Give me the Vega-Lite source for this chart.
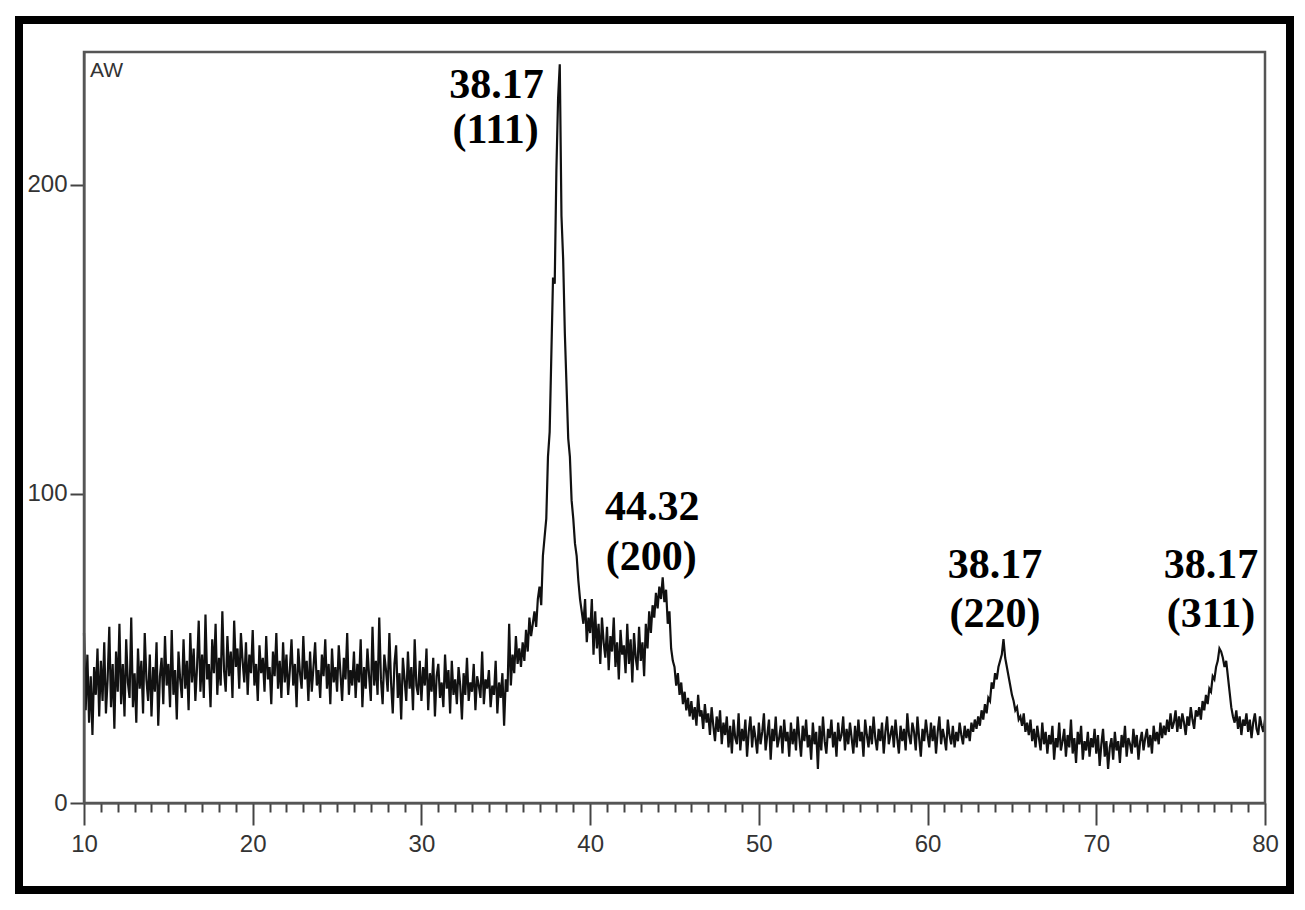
{
  "$schema": "https://vega.github.io/schema/vega-lite/v6.json",
  "width": 1271,
  "height": 870,
  "autosize": "none",
  "padding": {"left": 19, "top": 20, "right": 15, "bottom": 20},
  "background": "white",
  "config": {"view": {"stroke": "black", "strokeWidth": 8}},
  "datasets": {
    "xrd": [
{"t":10.0,"i":55},{"t":10.1,"i":30},{"t":10.2,"i":48},{"t":10.3,"i":26},{"t":10.4,"i":41},{"t":10.5,"i":22},{"t":10.6,"i":44},{"t":10.7,"i":35},{"t":10.8,"i":50},{"t":10.9,"i":28},
{"t":11.0,"i":46},{"t":11.1,"i":33},{"t":11.2,"i":52},{"t":11.3,"i":29},{"t":11.4,"i":40},{"t":11.5,"i":57},{"t":11.6,"i":31},{"t":11.7,"i":45},{"t":11.8,"i":24},{"t":11.9,"i":49},
{"t":12.0,"i":36},{"t":12.1,"i":58},{"t":12.2,"i":32},{"t":12.3,"i":45},{"t":12.4,"i":28},{"t":12.5,"i":53},{"t":12.6,"i":39},{"t":12.7,"i":34},{"t":12.8,"i":60},{"t":12.9,"i":31},
{"t":13.0,"i":42},{"t":13.1,"i":26},{"t":13.2,"i":50},{"t":13.3,"i":37},{"t":13.4,"i":46},{"t":13.5,"i":29},{"t":13.6,"i":55},{"t":13.7,"i":40},{"t":13.8,"i":33},{"t":13.9,"i":48},
{"t":14.0,"i":28},{"t":14.1,"i":44},{"t":14.2,"i":36},{"t":14.3,"i":52},{"t":14.4,"i":25},{"t":14.5,"i":41},{"t":14.6,"i":47},{"t":14.7,"i":32},{"t":14.8,"i":54},{"t":14.9,"i":38},
{"t":15.0,"i":45},{"t":15.1,"i":31},{"t":15.2,"i":56},{"t":15.3,"i":35},{"t":15.4,"i":43},{"t":15.5,"i":27},{"t":15.6,"i":49},{"t":15.7,"i":40},{"t":15.8,"i":34},{"t":15.9,"i":53},
{"t":16.0,"i":37},{"t":16.1,"i":46},{"t":16.2,"i":30},{"t":16.3,"i":55},{"t":16.4,"i":39},{"t":16.5,"i":50},{"t":16.6,"i":33},{"t":16.7,"i":44},{"t":16.8,"i":59},{"t":16.9,"i":36},
{"t":17.0,"i":48},{"t":17.1,"i":34},{"t":17.2,"i":61},{"t":17.3,"i":40},{"t":17.4,"i":45},{"t":17.5,"i":31},{"t":17.6,"i":53},{"t":17.7,"i":42},{"t":17.8,"i":58},{"t":17.9,"i":35},
{"t":18.0,"i":47},{"t":18.1,"i":38},{"t":18.2,"i":62},{"t":18.3,"i":43},{"t":18.4,"i":36},{"t":18.5,"i":54},{"t":18.6,"i":41},{"t":18.7,"i":49},{"t":18.8,"i":34},{"t":18.9,"i":59},
{"t":19.0,"i":44},{"t":19.1,"i":50},{"t":19.2,"i":37},{"t":19.3,"i":55},{"t":19.4,"i":46},{"t":19.5,"i":39},{"t":19.6,"i":52},{"t":19.7,"i":35},{"t":19.8,"i":48},{"t":19.9,"i":42},
{"t":20.0,"i":56},{"t":20.1,"i":38},{"t":20.2,"i":45},{"t":20.3,"i":33},{"t":20.4,"i":51},{"t":20.5,"i":42},{"t":20.6,"i":47},{"t":20.7,"i":36},{"t":20.8,"i":54},{"t":20.9,"i":40},
{"t":21.0,"i":44},{"t":21.1,"i":32},{"t":21.2,"i":49},{"t":21.3,"i":41},{"t":21.4,"i":55},{"t":21.5,"i":37},{"t":21.6,"i":46},{"t":21.7,"i":34},{"t":21.8,"i":52},{"t":21.9,"i":39},
{"t":22.0,"i":48},{"t":22.1,"i":35},{"t":22.2,"i":43},{"t":22.3,"i":53},{"t":22.4,"i":38},{"t":22.5,"i":45},{"t":22.6,"i":31},{"t":22.7,"i":50},{"t":22.8,"i":42},{"t":22.9,"i":37},
{"t":23.0,"i":54},{"t":23.1,"i":40},{"t":23.2,"i":46},{"t":23.3,"i":33},{"t":23.4,"i":49},{"t":23.5,"i":36},{"t":23.6,"i":44},{"t":23.7,"i":52},{"t":23.8,"i":38},{"t":23.9,"i":43},
{"t":24.0,"i":34},{"t":24.1,"i":48},{"t":24.2,"i":41},{"t":24.3,"i":53},{"t":24.4,"i":37},{"t":24.5,"i":45},{"t":24.6,"i":32},{"t":24.7,"i":50},{"t":24.8,"i":39},{"t":24.9,"i":44},
{"t":25.0,"i":36},{"t":25.1,"i":51},{"t":25.2,"i":42},{"t":25.3,"i":33},{"t":25.4,"i":47},{"t":25.5,"i":40},{"t":25.6,"i":55},{"t":25.7,"i":35},{"t":25.8,"i":43},{"t":25.9,"i":38},
{"t":26.0,"i":49},{"t":26.1,"i":34},{"t":26.2,"i":45},{"t":26.3,"i":39},{"t":26.4,"i":53},{"t":26.5,"i":31},{"t":26.6,"i":44},{"t":26.7,"i":37},{"t":26.8,"i":50},{"t":26.9,"i":41},
{"t":27.0,"i":33},{"t":27.1,"i":57},{"t":27.2,"i":38},{"t":27.3,"i":46},{"t":27.4,"i":35},{"t":27.5,"i":60},{"t":27.6,"i":40},{"t":27.7,"i":32},{"t":27.8,"i":48},{"t":27.9,"i":43},
{"t":28.0,"i":36},{"t":28.1,"i":55},{"t":28.2,"i":39},{"t":28.3,"i":29},{"t":28.4,"i":45},{"t":28.5,"i":51},{"t":28.6,"i":34},{"t":28.7,"i":42},{"t":28.8,"i":27},{"t":28.9,"i":47},
{"t":29.0,"i":40},{"t":29.1,"i":33},{"t":29.2,"i":49},{"t":29.3,"i":37},{"t":29.4,"i":44},{"t":29.5,"i":30},{"t":29.6,"i":53},{"t":29.7,"i":38},{"t":29.8,"i":35},{"t":29.9,"i":46},
{"t":30.0,"i":33},{"t":30.1,"i":44},{"t":30.2,"i":38},{"t":30.3,"i":50},{"t":30.4,"i":30},{"t":30.5,"i":42},{"t":30.6,"i":36},{"t":30.7,"i":47},{"t":30.8,"i":28},{"t":30.9,"i":41},
{"t":31.0,"i":45},{"t":31.1,"i":34},{"t":31.2,"i":39},{"t":31.3,"i":31},{"t":31.4,"i":48},{"t":31.5,"i":37},{"t":31.6,"i":43},{"t":31.7,"i":29},{"t":31.8,"i":46},{"t":31.9,"i":35},
{"t":32.0,"i":40},{"t":32.1,"i":32},{"t":32.2,"i":44},{"t":32.3,"i":38},{"t":32.4,"i":27},{"t":32.5,"i":42},{"t":32.6,"i":35},{"t":32.7,"i":47},{"t":32.8,"i":33},{"t":32.9,"i":39},
{"t":33.0,"i":36},{"t":33.1,"i":45},{"t":33.2,"i":30},{"t":33.3,"i":41},{"t":33.4,"i":38},{"t":33.5,"i":34},{"t":33.6,"i":49},{"t":33.7,"i":32},{"t":33.8,"i":40},{"t":33.9,"i":37},
{"t":34.0,"i":43},{"t":34.1,"i":31},{"t":34.2,"i":38},{"t":34.3,"i":35},{"t":34.4,"i":46},{"t":34.5,"i":29},{"t":34.6,"i":39},{"t":34.7,"i":34},{"t":34.8,"i":42},{"t":34.9,"i":25},
{"t":35.0,"i":40},{"t":35.1,"i":36},{"t":35.2,"i":58},{"t":35.3,"i":38},{"t":35.4,"i":48},{"t":35.5,"i":42},{"t":35.6,"i":54},{"t":35.7,"i":45},{"t":35.8,"i":50},{"t":35.9,"i":44},
{"t":36.0,"i":52},{"t":36.1,"i":46},{"t":36.2,"i":56},{"t":36.3,"i":49},{"t":36.4,"i":60},{"t":36.5,"i":54},{"t":36.6,"i":58},{"t":36.7,"i":62},{"t":36.8,"i":57},{"t":36.9,"i":66},
{"t":37.0,"i":70},{"t":37.1,"i":64},{"t":37.2,"i":80},{"t":37.3,"i":86},{"t":37.4,"i":92},{"t":37.5,"i":112},{"t":37.6,"i":120},{"t":37.7,"i":145},{"t":37.8,"i":170},{"t":37.9,"i":168},
{"t":38.0,"i":205},{"t":38.1,"i":228},{"t":38.2,"i":239},{"t":38.3,"i":190},{"t":38.4,"i":176},{"t":38.5,"i":152},{"t":38.6,"i":135},{"t":38.7,"i":118},{"t":38.8,"i":112},{"t":38.9,"i":98},
{"t":39.0,"i":92},{"t":39.1,"i":84},{"t":39.2,"i":80},{"t":39.3,"i":72},{"t":39.4,"i":66},{"t":39.5,"i":62},{"t":39.6,"i":58},{"t":39.7,"i":66},{"t":39.8,"i":52},{"t":39.9,"i":60},
{"t":40.0,"i":55},{"t":40.1,"i":66},{"t":40.2,"i":48},{"t":40.3,"i":62},{"t":40.4,"i":50},{"t":40.5,"i":58},{"t":40.6,"i":45},{"t":40.7,"i":60},{"t":40.8,"i":52},{"t":40.9,"i":47},
{"t":41.0,"i":57},{"t":41.1,"i":43},{"t":41.2,"i":54},{"t":41.3,"i":49},{"t":41.4,"i":60},{"t":41.5,"i":44},{"t":41.6,"i":52},{"t":41.7,"i":40},{"t":41.8,"i":56},{"t":41.9,"i":48},
{"t":42.0,"i":51},{"t":42.1,"i":42},{"t":42.2,"i":58},{"t":42.3,"i":45},{"t":42.4,"i":53},{"t":42.5,"i":39},{"t":42.6,"i":55},{"t":42.7,"i":47},{"t":42.8,"i":43},{"t":42.9,"i":57},
{"t":43.0,"i":46},{"t":43.1,"i":52},{"t":43.2,"i":41},{"t":43.3,"i":58},{"t":43.4,"i":50},{"t":43.5,"i":62},{"t":43.6,"i":55},{"t":43.7,"i":64},{"t":43.8,"i":60},{"t":43.9,"i":68},
{"t":44.0,"i":63},{"t":44.1,"i":70},{"t":44.2,"i":66},{"t":44.3,"i":73},{"t":44.4,"i":65},{"t":44.5,"i":69},{"t":44.6,"i":58},{"t":44.7,"i":62},{"t":44.8,"i":50},{"t":44.9,"i":46},
{"t":45.0,"i":44},{"t":45.1,"i":38},{"t":45.2,"i":42},{"t":45.3,"i":35},{"t":45.4,"i":39},{"t":45.5,"i":32},{"t":45.6,"i":36},{"t":45.7,"i":30},{"t":45.8,"i":34},{"t":45.9,"i":28},
{"t":46.0,"i":33},{"t":46.1,"i":27},{"t":46.2,"i":31},{"t":46.3,"i":25},{"t":46.4,"i":35},{"t":46.5,"i":28},{"t":46.6,"i":30},{"t":46.7,"i":24},{"t":46.8,"i":32},{"t":46.9,"i":26},
{"t":47.0,"i":29},{"t":47.1,"i":22},{"t":47.2,"i":31},{"t":47.3,"i":25},{"t":47.4,"i":20},{"t":47.5,"i":28},{"t":47.6,"i":23},{"t":47.7,"i":30},{"t":47.8,"i":19},{"t":47.9,"i":26},
{"t":48.0,"i":22},{"t":48.1,"i":28},{"t":48.2,"i":18},{"t":48.3,"i":25},{"t":48.4,"i":16},{"t":48.5,"i":27},{"t":48.6,"i":21},{"t":48.7,"i":19},{"t":48.8,"i":29},{"t":48.9,"i":17},
{"t":49.0,"i":24},{"t":49.1,"i":20},{"t":49.2,"i":27},{"t":49.3,"i":15},{"t":49.4,"i":23},{"t":49.5,"i":28},{"t":49.6,"i":18},{"t":49.7,"i":25},{"t":49.8,"i":21},{"t":49.9,"i":16},
{"t":50.0,"i":26},{"t":50.1,"i":19},{"t":50.2,"i":23},{"t":50.3,"i":29},{"t":50.4,"i":17},{"t":50.5,"i":22},{"t":50.6,"i":27},{"t":50.7,"i":14},{"t":50.8,"i":24},{"t":50.9,"i":20},
{"t":51.0,"i":28},{"t":51.1,"i":18},{"t":51.2,"i":21},{"t":51.3,"i":25},{"t":51.4,"i":16},{"t":51.5,"i":27},{"t":51.6,"i":20},{"t":51.7,"i":23},{"t":51.8,"i":15},{"t":51.9,"i":26},
{"t":52.0,"i":19},{"t":52.1,"i":24},{"t":52.2,"i":17},{"t":52.3,"i":28},{"t":52.4,"i":21},{"t":52.5,"i":15},{"t":52.6,"i":25},{"t":52.7,"i":20},{"t":52.8,"i":27},{"t":52.9,"i":18},
{"t":53.0,"i":22},{"t":53.1,"i":14},{"t":53.2,"i":26},{"t":53.3,"i":19},{"t":53.4,"i":23},{"t":53.5,"i":11},{"t":53.6,"i":25},{"t":53.7,"i":17},{"t":53.8,"i":28},{"t":53.9,"i":20},
{"t":54.0,"i":16},{"t":54.1,"i":24},{"t":54.2,"i":21},{"t":54.3,"i":27},{"t":54.4,"i":18},{"t":54.5,"i":23},{"t":54.6,"i":15},{"t":54.7,"i":26},{"t":54.8,"i":20},{"t":54.9,"i":22},
{"t":55.0,"i":28},{"t":55.1,"i":17},{"t":55.2,"i":24},{"t":55.3,"i":19},{"t":55.4,"i":26},{"t":55.5,"i":21},{"t":55.6,"i":16},{"t":55.7,"i":25},{"t":55.8,"i":18},{"t":55.9,"i":27},
{"t":56.0,"i":20},{"t":56.1,"i":23},{"t":56.2,"i":15},{"t":56.3,"i":27},{"t":56.4,"i":22},{"t":56.5,"i":18},{"t":56.6,"i":25},{"t":56.7,"i":19},{"t":56.8,"i":28},{"t":56.9,"i":21},
{"t":57.0,"i":17},{"t":57.1,"i":24},{"t":57.2,"i":20},{"t":57.3,"i":26},{"t":57.4,"i":16},{"t":57.5,"i":23},{"t":57.6,"i":28},{"t":57.7,"i":19},{"t":57.8,"i":22},{"t":57.9,"i":25},
{"t":58.0,"i":18},{"t":58.1,"i":27},{"t":58.2,"i":21},{"t":58.3,"i":16},{"t":58.4,"i":25},{"t":58.5,"i":20},{"t":58.6,"i":24},{"t":58.7,"i":17},{"t":58.8,"i":29},{"t":58.9,"i":22},
{"t":59.0,"i":19},{"t":59.1,"i":26},{"t":59.2,"i":23},{"t":59.3,"i":17},{"t":59.4,"i":28},{"t":59.5,"i":21},{"t":59.6,"i":15},{"t":59.7,"i":24},{"t":59.8,"i":20},{"t":59.9,"i":27},
{"t":60.0,"i":22},{"t":60.1,"i":18},{"t":60.2,"i":26},{"t":60.3,"i":20},{"t":60.4,"i":25},{"t":60.5,"i":16},{"t":60.6,"i":23},{"t":60.7,"i":28},{"t":60.8,"i":19},{"t":60.9,"i":24},
{"t":61.0,"i":21},{"t":61.1,"i":17},{"t":61.2,"i":27},{"t":61.3,"i":22},{"t":61.4,"i":19},{"t":61.5,"i":25},{"t":61.6,"i":18},{"t":61.7,"i":23},{"t":61.8,"i":20},{"t":61.9,"i":26},
{"t":62.0,"i":22},{"t":62.1,"i":19},{"t":62.2,"i":25},{"t":62.3,"i":21},{"t":62.4,"i":24},{"t":62.5,"i":20},{"t":62.6,"i":26},{"t":62.7,"i":23},{"t":62.8,"i":27},{"t":62.9,"i":24},
{"t":63.0,"i":28},{"t":63.1,"i":25},{"t":63.2,"i":30},{"t":63.3,"i":27},{"t":63.4,"i":32},{"t":63.5,"i":29},{"t":63.6,"i":34},{"t":63.7,"i":33},{"t":63.8,"i":39},{"t":63.9,"i":37},
{"t":64.0,"i":42},{"t":64.1,"i":40},{"t":64.2,"i":44},{"t":64.3,"i":46},{"t":64.4,"i":48},{"t":64.5,"i":53},{"t":64.6,"i":47},{"t":64.7,"i":44},{"t":64.8,"i":41},{"t":64.9,"i":38},
{"t":65.0,"i":35},{"t":65.1,"i":33},{"t":65.2,"i":30},{"t":65.3,"i":31},{"t":65.4,"i":27},{"t":65.5,"i":28},{"t":65.6,"i":25},{"t":65.7,"i":29},{"t":65.8,"i":23},{"t":65.9,"i":26},
{"t":66.0,"i":22},{"t":66.1,"i":27},{"t":66.2,"i":20},{"t":66.3,"i":24},{"t":66.4,"i":18},{"t":66.5,"i":25},{"t":66.6,"i":21},{"t":66.7,"i":17},{"t":66.8,"i":26},{"t":66.9,"i":19},
{"t":67.0,"i":23},{"t":67.1,"i":16},{"t":67.2,"i":22},{"t":67.3,"i":19},{"t":67.4,"i":25},{"t":67.5,"i":14},{"t":67.6,"i":21},{"t":67.7,"i":18},{"t":67.8,"i":26},{"t":67.9,"i":17},
{"t":68.0,"i":20},{"t":68.1,"i":24},{"t":68.2,"i":15},{"t":68.3,"i":22},{"t":68.4,"i":18},{"t":68.5,"i":27},{"t":68.6,"i":16},{"t":68.7,"i":21},{"t":68.8,"i":13},{"t":68.9,"i":23},
{"t":69.0,"i":19},{"t":69.1,"i":25},{"t":69.2,"i":14},{"t":69.3,"i":20},{"t":69.4,"i":17},{"t":69.5,"i":23},{"t":69.6,"i":15},{"t":69.7,"i":21},{"t":69.8,"i":18},{"t":69.9,"i":24},
{"t":70.0,"i":16},{"t":70.1,"i":22},{"t":70.2,"i":12},{"t":70.3,"i":19},{"t":70.4,"i":24},{"t":70.5,"i":15},{"t":70.6,"i":20},{"t":70.7,"i":11},{"t":70.8,"i":18},{"t":70.9,"i":21},
{"t":71.0,"i":14},{"t":71.1,"i":23},{"t":71.2,"i":17},{"t":71.3,"i":20},{"t":71.4,"i":13},{"t":71.5,"i":22},{"t":71.6,"i":18},{"t":71.7,"i":25},{"t":71.8,"i":15},{"t":71.9,"i":21},
{"t":72.0,"i":19},{"t":72.1,"i":16},{"t":72.2,"i":24},{"t":72.3,"i":18},{"t":72.4,"i":22},{"t":72.5,"i":14},{"t":72.6,"i":20},{"t":72.7,"i":23},{"t":72.8,"i":17},{"t":72.9,"i":21},
{"t":73.0,"i":24},{"t":73.1,"i":18},{"t":73.2,"i":22},{"t":73.3,"i":16},{"t":73.4,"i":25},{"t":73.5,"i":20},{"t":73.6,"i":23},{"t":73.7,"i":19},{"t":73.8,"i":26},{"t":73.9,"i":21},
{"t":74.0,"i":25},{"t":74.1,"i":22},{"t":74.2,"i":27},{"t":74.3,"i":23},{"t":74.4,"i":29},{"t":74.5,"i":24},{"t":74.6,"i":26},{"t":74.7,"i":30},{"t":74.8,"i":23},{"t":74.9,"i":28},
{"t":75.0,"i":24},{"t":75.1,"i":29},{"t":75.2,"i":26},{"t":75.3,"i":22},{"t":75.4,"i":28},{"t":75.5,"i":25},{"t":75.6,"i":31},{"t":75.7,"i":27},{"t":75.8,"i":24},{"t":75.9,"i":30},
{"t":76.0,"i":28},{"t":76.1,"i":31},{"t":76.2,"i":27},{"t":76.3,"i":33},{"t":76.4,"i":30},{"t":76.5,"i":35},{"t":76.6,"i":32},{"t":76.7,"i":37},{"t":76.8,"i":36},{"t":76.9,"i":41},
{"t":77.0,"i":40},{"t":77.1,"i":44},{"t":77.2,"i":46},{"t":77.3,"i":50},{"t":77.4,"i":49},{"t":77.5,"i":47},{"t":77.6,"i":44},{"t":77.7,"i":46},{"t":77.8,"i":41},{"t":77.9,"i":36},
{"t":78.0,"i":31},{"t":78.1,"i":28},{"t":78.2,"i":26},{"t":78.3,"i":30},{"t":78.4,"i":24},{"t":78.5,"i":28},{"t":78.6,"i":22},{"t":78.7,"i":27},{"t":78.8,"i":25},{"t":78.9,"i":29},
{"t":79.0,"i":23},{"t":79.1,"i":27},{"t":79.2,"i":21},{"t":79.3,"i":26},{"t":79.4,"i":29},{"t":79.5,"i":24},{"t":79.6,"i":22},{"t":79.7,"i":28},{"t":79.8,"i":25},{"t":79.9,"i":23},
{"t":80.0,"i":27}
    ],
    "ann": [
      {"t": 34.45, "i": 228.2, "txt": "38.17"},
      {"t": 34.40, "i": 213.6, "txt": "(111)"},
      {"t": 43.68, "i": 91.6, "txt": "44.32"},
      {"t": 43.62, "i": 75.5, "txt": "(200)"},
      {"t": 64.0, "i": 72.8, "txt": "38.17"},
      {"t": 64.0, "i": 56.8, "txt": "(220)"},
      {"t": 76.8, "i": 72.8, "txt": "38.17"},
      {"t": 76.8, "i": 56.8, "txt": "(311)"}
    ],
    "frame": [{"t": 10, "t2": 80, "i": 0, "i2": 243}],
    "tag": [{"t": 10.36, "i": 235, "txt": "AW"}]
  },
  "encoding": {
    "x": {
      "field": "t", "type": "quantitative",
      "scale": {"domain": [10, 80], "range": [65, 1246], "nice": false, "zero": false},
      "axis": {
        "orient": "bottom", "offset": -87, "title": null, "grid": false,
        "values": [10,11,12,13,14,15,16,17,18,19,20,21,22,23,24,25,26,27,28,29,30,31,32,33,34,35,36,37,38,39,40,41,42,43,44,45,46,47,48,49,50,51,52,53,54,55,56,57,58,59,60,61,62,63,64,65,66,67,68,69,70,71,72,73,74,75,76,77,78,79,80],
        "domainColor": "#444444", "domainWidth": 2,
        "tickColor": "#444444", "tickWidth": 2,
        "tickSize": {"condition": {"test": "datum.value % 10 === 0", "value": 22}, "value": 9},
        "labelExpr": "datum.value % 10 === 0 ? datum.label : ''",
        "labelFont": "Liberation Sans", "labelFontSize": 24, "labelColor": "#333333",
        "labelPadding": 7, "labelFlush": false, "labelOverlap": false, "labelBound": false
      }
    },
    "y": {
      "field": "i", "type": "quantitative",
      "scale": {"domain": [0, 243], "range": [783, 32], "nice": false},
      "axis": {
        "orient": "left", "offset": -65, "title": null, "grid": false,
        "values": [0, 100, 200],
        "domainColor": "#444444", "domainWidth": 2,
        "tickColor": "#444444", "tickWidth": 2, "tickSize": 14,
        "labelFont": "Liberation Sans", "labelFontSize": 24, "labelColor": "#333333",
        "labelPadding": 3, "labelBaseline": "middle", "labelFlush": false
      }
    }
  },
  "layer": [
    {
      "data": {"name": "xrd"},
      "mark": {"type": "line", "color": "#111111", "strokeWidth": 2.2, "interpolate": "linear"}
    },
    {
      "data": {"name": "frame"},
      "mark": {"type": "rect", "fillOpacity": 0, "stroke": "#555555", "strokeWidth": 2.5},
      "encoding": {
        "x2": {"field": "t2"},
        "y2": {"field": "i2"}
      }
    },
    {
      "data": {"name": "tag"},
      "mark": {"type": "text", "font": "Liberation Sans", "fontSize": 21, "color": "#333333", "align": "left", "baseline": "alphabetic"},
      "encoding": {"text": {"field": "txt"}}
    },
    {
      "data": {"name": "ann"},
      "mark": {"type": "text", "font": "Liberation Serif", "fontWeight": "bold", "fontSize": 42, "color": "#000000", "align": "center", "baseline": "alphabetic"},
      "encoding": {"text": {"field": "txt"}}
    }
  ]
}
